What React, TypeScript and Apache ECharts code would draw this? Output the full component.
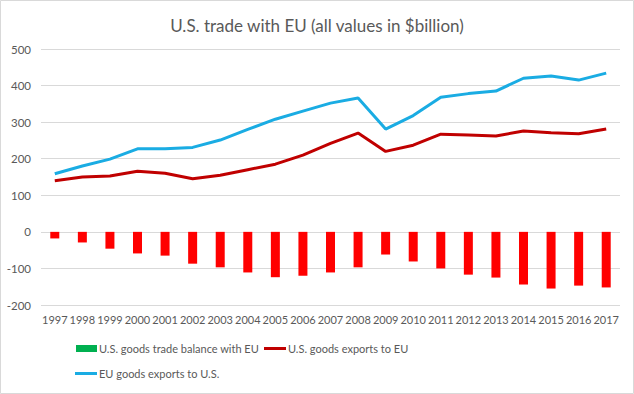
import React, { useEffect, useRef } from "react";
import * as echarts from "echarts";

const years = ["1997","1998","1999","2000","2001","2002","2003","2004","2005","2006","2007","2008","2009","2010","2011","2012","2013","2014","2015","2016","2017"];
const tradeBalance = [-18,-29,-46,-59,-65,-87,-97,-111,-124,-120,-111,-97,-62,-81,-100,-117,-125,-144,-155,-147,-152];
const usExportsToEU = [140,150,153,166,160,145,155,170,185,210,242,270,220,237,267,265,262,276,271,268,281];
const euExportsToUS = [159,180,199,227,227,231,251,280,308,330,352,366,281,318,368,378,385,420,426,415,434];

const FONT = "Lato, 'Open Sans', sans-serif";
const TXT = "#595959";
const legendText = { fontFamily: FONT, fontSize: 11, color: TXT, padding: [0, 0, 0, -3] };

export default function App() {
  const ref = useRef<HTMLDivElement>(null);
  useEffect(() => {
    const chart = echarts.init(ref.current!, null, { renderer: "svg" });
    chart.setOption({
      animation: false,
      backgroundColor: "#ffffff",
      textStyle: { fontFamily: FONT },
      title: {
        text: "U.S. trade with EU (all values in $billion)",
        left: "center",
        top: 12,
        textStyle: { fontFamily: FONT, fontSize: 17, fontWeight: "normal", color: TXT },
      },
      graphic: [
        {
          type: "rect",
          shape: { x: 0.5, y: 0.5, width: 633, height: 393 },
          style: { fill: "none", stroke: "#d9d9d9", lineWidth: 1 },
          silent: true,
        },
      ],
      legend: [
        {
          data: [{ name: "U.S. goods trade balance with EU", icon: "rect" }],
          left: 71,
          top: 338,
          itemWidth: 21,
          itemHeight: 7,
          textStyle: legendText,
        },
        {
          data: [{ name: "U.S. goods exports to EU", icon: "rect" }],
          left: 259,
          top: 338,
          itemWidth: 22,
          itemHeight: 3,
          textStyle: legendText,
        },
        {
          data: [{ name: "EU goods exports to U.S.", icon: "rect" }],
          left: 70,
          top: 363,
          itemWidth: 22,
          itemHeight: 3,
          textStyle: legendText,
        },
      ],
      grid: { left: 41, right: 14, top: 49, bottom: 89, containLabel: false },
      xAxis: {
        type: "category",
        data: years,
        axisLine: { show: false },
        axisTick: { show: false },
        axisLabel: { color: TXT, fontSize: 11, fontFamily: FONT, margin: 9, interval: 0 },
      },
      yAxis: {
        type: "value",
        min: -200,
        max: 500,
        interval: 100,
        axisLine: { show: false },
        axisTick: { show: false },
        axisLabel: { color: TXT, fontSize: 11.5, fontFamily: FONT, margin: 10 },
        splitLine: { lineStyle: { color: "#d9d9d9", width: 1 } },
      },
      series: [
        {
          name: "U.S. goods trade balance with EU",
          type: "bar",
          data: tradeBalance.map((v) => ({ value: v, itemStyle: { color: "#ff0000" } })),
          itemStyle: { color: "#00b050" },
          barWidth: 9,
        },
        {
          name: "U.S. goods exports to EU",
          type: "line",
          data: usExportsToEU,
          symbol: "none",
          lineStyle: { color: "#c00000", width: 3 },
          itemStyle: { color: "#c00000" },
        },
        {
          name: "EU goods exports to U.S.",
          type: "line",
          data: euExportsToUS,
          symbol: "none",
          lineStyle: { color: "#1aace3", width: 3 },
          itemStyle: { color: "#1aace3" },
        },
      ],
    });
    return () => chart.dispose();
  }, []);
  return (
    <div
      ref={ref}
      style={{ position: "fixed", left: 0, top: 0, width: 634, height: 394 }}
    />
  );
}
